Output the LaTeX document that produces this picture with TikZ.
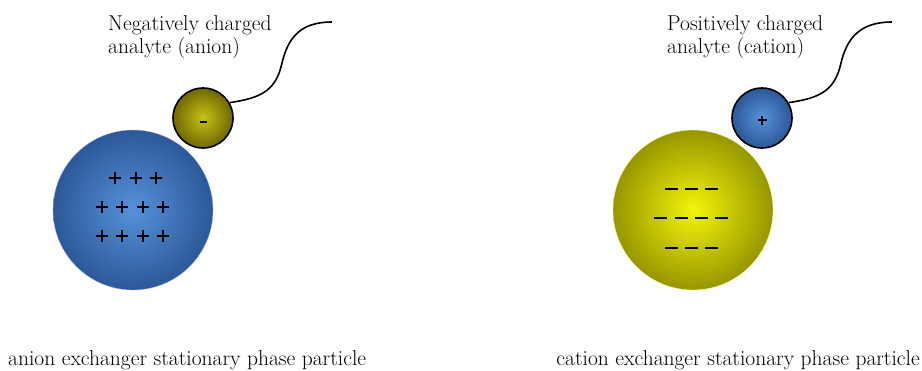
\documentclass[tikz,border=0pt]{standalone}
\usetikzlibrary{positioning}
\usepackage{xcolor}

\definecolor{bluemid}{RGB}{86,146,218}
\definecolor{blueedge}{RGB}{44,88,152}
\definecolor{yellowmid}{RGB}{244,244,10}
\definecolor{yellowedge}{RGB}{150,150,0}
\definecolor{olivemid}{RGB}{200,194,24}
\definecolor{oliveedge}{RGB}{110,104,0}

\newcommand{\plusmark}[3]{\draw[#3] (#1-6,#2) -- (#1+6,#2) (#1,#2-6) -- (#1,#2+6);}

\begin{document}
\begin{tikzpicture}[x=1pt, y=-1pt,
    caption/.style={font=\fontsize{21.5}{23}\selectfont, align=left, inner sep=0pt},
    bigball/.style={circle, minimum size=160pt, inner sep=0pt},
    smallball/.style={circle, draw=black, line width=1.6pt, minimum size=60pt, inner sep=0pt},
    tail/.style={line width=1.6pt},
    chargebar/.style={line width=2.3pt}
]
\useasboundingbox (0,0) rectangle (922,370);

% anion side
\node[bigball, draw=blue!35, thin, inner color=bluemid, outer color=blueedge] (anx) at (133,210) {};
\node[smallball, inner color=olivemid, outer color=oliveedge] (ana) at (203,118) {};
\draw[chargebar] ([xshift=-3.5pt, yshift=-4pt]ana.center) -- ([xshift=3.5pt, yshift=-4pt]ana.center);
\node[caption, anchor=north west] (analabel) at (108,15) {Negatively charged\\analyte (anion)};
\coordinate (abend) at (282,63);
\coordinate (atip) at (332,22);
\draw[tail] (ana.30) .. controls (262,98) and (276,90) .. (abend) .. controls (288,38) and (300,22) .. (atip);

\foreach \x in {115,136,156} {\plusmark{\x}{178}{chargebar}}
\foreach \y in {207,236}
  \foreach \x in {102,122,143,163} {\plusmark{\x}{\y}{chargebar}}

\node[caption, anchor=base west] (anxlabel) at (8,365) {anion exchanger stationary phase particle};

% cation side
\node[bigball, draw=yellow!50, thin, inner color=yellowmid, outer color=yellowedge] (catx) at (693,210) {};
\node[smallball, inner color=bluemid, outer color=blueedge] (cat) at (762,118) {};
\draw[line width=2pt] ([xshift=-4.5pt, yshift=-2pt]cat.center) -- ([xshift=4.5pt, yshift=-2pt]cat.center)
  ([yshift=2.5pt]cat.center) -- ([yshift=-6.5pt]cat.center);
\node[caption, anchor=north west] (catlabel) at (667,15) {Positively charged\\analyte (cation)};
\coordinate (cbend) at (841,63);
\coordinate (ctip) at (892,22);
\draw[tail] (cat.30) .. controls (821,98) and (835,90) .. (cbend) .. controls (847,38) and (860,22) .. (ctip);

\foreach \x in {671.5,691.5,711.5} {
  \draw[chargebar] (\x-6.5,189) -- (\x+6.5,189);
  \draw[chargebar] (\x-6.5,248) -- (\x+6.5,248);
}
\foreach \x in {660.5,681,701,721.5}
  \draw[chargebar] (\x-6.5,218) -- (\x+6.5,218);

\node[caption, anchor=base east] (catxlabel) at (920,365) {cation exchanger stationary phase particle};
\end{tikzpicture}
\end{document}
